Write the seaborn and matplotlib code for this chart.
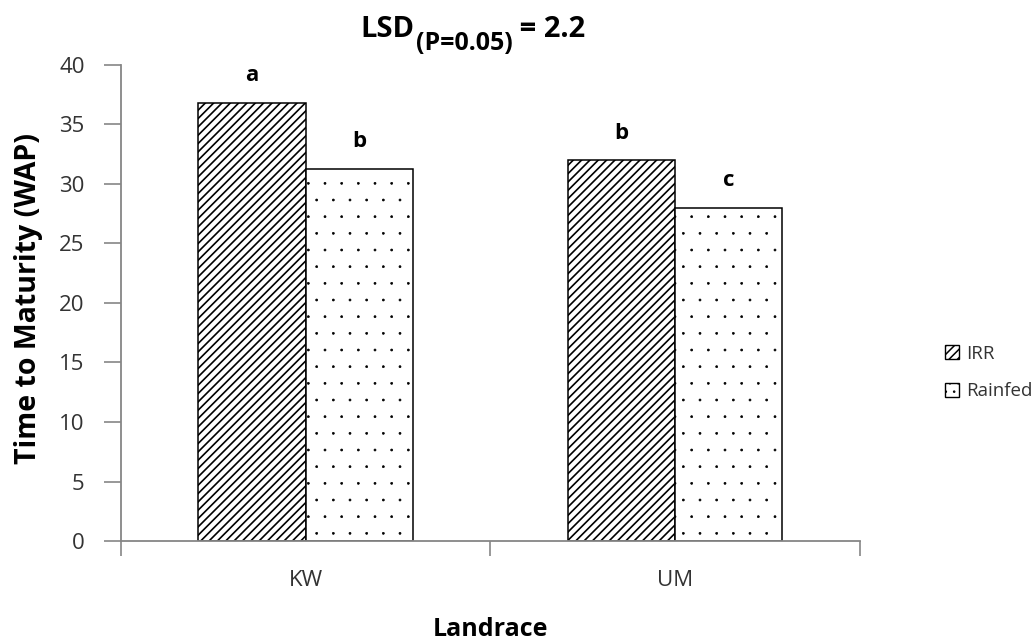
import matplotlib
matplotlib.use("Agg")
import matplotlib.pyplot as plt
import matplotlib.hatch as mhatch
import seaborn as sns
import pandas as pd
from matplotlib.patches import Patch

# Data
landraces = ["KW", "UM"]
treatments = ["IRR", "Rainfed"]
irr_values = [36.8, 32.0]
rainfed_values = [31.3, 28.0]
irr_letters = ["a", "b"]
rainfed_letters = ["b", "c"]
yticks = [0, 5, 10, 15, 20, 25, 30, 35, 40]

df = pd.DataFrame({
    "Landrace": landraces * 2,
    "Treatment": [treatments[0]] * 2 + [treatments[1]] * 2,
    "WAP": irr_values + rainfed_values,
})

sns.set_theme(style="white")
plt.rcParams["font.family"] = ["Open Sans", "DejaVu Sans"]
plt.rcParams["hatch.linewidth"] = 1.1

# finer stipple dots for the "." hatch
mhatch.SmallFilledCircles.size = 0.06

TEXT = "#333333"
AXIS = "#868686"

fig = plt.figure(figsize=(10.33, 6.42), dpi=100)
ax = fig.add_axes([0.117, 0.1573, 0.7155, 0.7415])

sns.barplot(data=df, x="Landrace", y="WAP", hue="Treatment",
            palette=["white", "white"], edgecolor="black", linewidth=1.1,
            width=0.58, legend=False, ax=ax)

hatches = ["////", "."]
hatch_lw = [1.2, 0.5]
letters = [irr_letters, rainfed_letters]
for cont, h, lw, labs in zip(ax.containers, hatches, hatch_lw, letters):
    for bar in cont:
        bar.set_hatch(h)
        bar.set_edgecolor("black")
        if hasattr(bar, "set_hatch_linewidth"):
            bar.set_hatch_linewidth(lw)
    ax.bar_label(cont, labels=labs, padding=12, fontsize=16,
                 fontweight="bold", color="black")

ax.set_ylim(0, 40)
ax.set_xlim(-0.5, 1.5)
ax.set_yticks(yticks)
ax.set_yticklabels([str(v) for v in yticks])

# Category-boundary tick marks on the x axis
ax.set_xticks([-0.5, 0.5, 1.5], minor=True)
ax.tick_params(axis="x", which="major", length=0, pad=21, labelsize=16,
               labelcolor=TEXT)
ax.tick_params(axis="x", which="minor", length=11, width=1.2,
               color=AXIS, direction="out", bottom=True)
ax.tick_params(axis="y", which="major", length=12, width=1.2,
               color=AXIS, direction="out", left=True, pad=14,
               labelsize=16, labelcolor=TEXT)

for side in ["top", "right"]:
    ax.spines[side].set_visible(False)
for side in ["left", "bottom"]:
    ax.spines[side].set_color(AXIS)
    ax.spines[side].set_linewidth(1.3)

ax.set_xlabel("Landrace", fontsize=18, fontweight="bold", color="black")
ax.xaxis.set_label_coords(0.5, -0.16)
ax.set_ylabel("Time to Maturity (WAP)", fontsize=20.5, fontweight="bold",
              color="black")
ax.yaxis.set_label_coords(-0.105, 0.51)

# Title with subscript: LSD(P=0.05) = 2.2
t1 = fig.text(360 / 1033, 1 - 37 / 642, "LSD", fontsize=21,
              fontweight="bold", ha="left", va="baseline", color="black")
t2 = ax.annotate("(P=0.05)", xy=(1, 0), xycoords=t1, xytext=(1, -9),
                 textcoords="offset points", fontsize=18, fontweight="bold",
                 ha="left", va="bottom", color="black", annotation_clip=False)
t3 = ax.annotate(" = 2.2", xy=(1, 0), xycoords=(t2, t1), xytext=(0, 0),
                 textcoords="offset points", fontsize=21, fontweight="bold",
                 ha="left", va="bottom", color="black", annotation_clip=False)

handles = [Patch(facecolor="white", edgecolor="black", hatch="////",
                 label=treatments[0]),
           Patch(facecolor="white", edgecolor="black", hatch="..",
                 label=treatments[1])]
leg = fig.legend(handles=handles, loc="center left",
                 bbox_to_anchor=(0.915, 0.42), frameon=False,
                 fontsize=13.5, handlelength=0.75, handleheight=0.75,
                 handletextpad=0.35, labelspacing=1.05, borderpad=0,
                 borderaxespad=0)
for t in leg.get_texts():
    t.set_color(TEXT)

fig.savefig("out.png", dpi=100)
